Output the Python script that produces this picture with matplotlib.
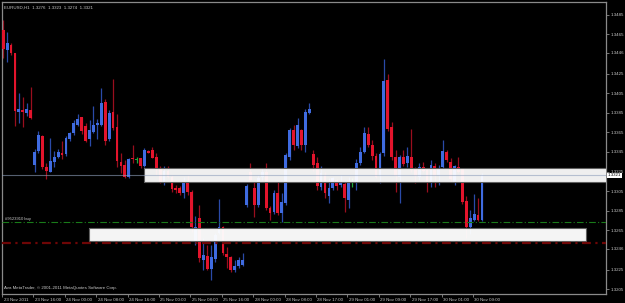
import numpy as np
import matplotlib
matplotlib.use("Agg")
import matplotlib.pyplot as plt
from matplotlib.patches import Rectangle
import matplotlib.transforms as mtransforms

plt.rcParams['font.family'] = ['Liberation Sans', 'DejaVu Sans']

# EURUSD H1 candles, 23 Nov 2011 08:00 .. 30 Nov 2011 ~10:00
opens = [1.3469, 1.3449, 1.3454, 1.3446, 1.3386, 1.3388, 1.3385, 1.3388, 1.3332, 1.3346,
         1.3361, 1.3330, 1.3325, 1.3335, 1.3340, 1.3344, 1.3343, 1.3358, 1.3364, 1.3372,
         1.3381, 1.3371, 1.3358, 1.3365, 1.3372, 1.3372, 1.3396, 1.3358, 1.3386, 1.3370,
         1.3335, 1.3332, 1.3319, 1.3339, 1.3337, 1.3339, 1.3331, 1.3346, 1.3347, 1.3340,
         1.3329, 1.3313, 1.3326, 1.3319, 1.3308, 1.3308, 1.3303, 1.3313, 1.3304, 1.3253,
         1.3278, 1.3235, 1.3239, 1.3226, 1.3236, 1.3262, 1.3268, 1.3241, 1.3238, 1.3224,
         1.3229, 1.3230, 1.3291, 1.3325, 1.3308, 1.3291, 1.3319, 1.3325, 1.3288, 1.3284,
         1.3303, 1.3283, 1.3293, 1.3340, 1.3367, 1.3351, 1.3367, 1.3352, 1.3385, 1.3343,
         1.3334, 1.3309, 1.3321, 1.3300, 1.3308, 1.3316, 1.3311, 1.3312, 1.3296, 1.3313,
         1.3313, 1.3334, 1.3345, 1.3363, 1.3352, 1.3341, 1.3320, 1.3344, 1.3418, 1.3370,
         1.3340, 1.3319, 1.3340, 1.3334, 1.3340, 1.3328, 1.3319, 1.3330, 1.3327, 1.3313,
         1.3331, 1.3321, 1.3330, 1.3345, 1.3335, 1.3313, 1.3330, 1.3328, 1.3295, 1.3268,
         1.3276, 1.3281, 1.3276]
highs = [1.3480, 1.3467, 1.3456, 1.3446, 1.3405, 1.3401, 1.3395, 1.3411, 1.3348, 1.3366,
         1.3362, 1.3334, 1.3359, 1.3346, 1.3348, 1.3356, 1.3361, 1.3365, 1.3378, 1.3384,
         1.3381, 1.3375, 1.3378, 1.3392, 1.3379, 1.3410, 1.3399, 1.3388, 1.3419, 1.3384,
         1.3344, 1.3337, 1.3339, 1.3352, 1.3340, 1.3339, 1.3349, 1.3347, 1.3350, 1.3344,
         1.3331, 1.3331, 1.3331, 1.3321, 1.3311, 1.3310, 1.3319, 1.3321, 1.3306, 1.3280,
         1.3291, 1.3257, 1.3250, 1.3250, 1.3262, 1.3297, 1.3269, 1.3248, 1.3239, 1.3235,
         1.3238, 1.3242, 1.3312, 1.3334, 1.3314, 1.3321, 1.3329, 1.3334, 1.3290, 1.3306,
         1.3314, 1.3303, 1.3344, 1.3369, 1.3372, 1.3380, 1.3368, 1.3389, 1.3395, 1.3347,
         1.3340, 1.3331, 1.3325, 1.3318, 1.3319, 1.3317, 1.3321, 1.3314, 1.3319, 1.3318,
         1.3338, 1.3350, 1.3370, 1.3370, 1.3357, 1.3344, 1.3345, 1.3440, 1.3425, 1.3376,
         1.3347, 1.3342, 1.3347, 1.3350, 1.3368, 1.3330, 1.3334, 1.3335, 1.3329, 1.3337,
         1.3334, 1.3332, 1.3357, 1.3347, 1.3339, 1.3332, 1.3340, 1.3329, 1.3300, 1.3286,
         1.3302, 1.3298, 1.3323]
lows = [1.3441, 1.3437, 1.3444, 1.3371, 1.3375, 1.3370, 1.3382, 1.3379, 1.3325, 1.3344,
        1.3328, 1.3317, 1.3324, 1.3330, 1.3339, 1.3338, 1.3341, 1.3356, 1.3362, 1.3371,
        1.3363, 1.3355, 1.3351, 1.3364, 1.3358, 1.3371, 1.3352, 1.3356, 1.3367, 1.3330,
        1.3323, 1.3318, 1.3318, 1.3334, 1.3334, 1.3329, 1.3330, 1.3344, 1.3339, 1.3321,
        1.3313, 1.3311, 1.3318, 1.3304, 1.3303, 1.3301, 1.3298, 1.3301, 1.3263, 1.3250,
        1.3233, 1.3225, 1.3225, 1.3214, 1.3233, 1.3261, 1.3240, 1.3227, 1.3222, 1.3222,
        1.3227, 1.3229, 1.3289, 1.3314, 1.3279, 1.3289, 1.3316, 1.3286, 1.3276, 1.3282,
        1.3281, 1.3273, 1.3291, 1.3337, 1.3347, 1.3349, 1.3347, 1.3345, 1.3384, 1.3326,
        1.3306, 1.3306, 1.3298, 1.3293, 1.3306, 1.3306, 1.3309, 1.3284, 1.3288, 1.3309,
        1.3306, 1.3332, 1.3344, 1.3350, 1.3337, 1.3318, 1.3313, 1.3341, 1.3366, 1.3337,
        1.3304, 1.3293, 1.3331, 1.3330, 1.3325, 1.3313, 1.3316, 1.3324, 1.3304, 1.3309,
        1.3309, 1.3311, 1.3329, 1.3335, 1.3314, 1.3311, 1.3323, 1.3292, 1.3257, 1.3261,
        1.3274, 1.3274, 1.3274]
closes = [1.3450, 1.3456, 1.3446, 1.3387, 1.3389, 1.3386, 1.3389, 1.3380, 1.3345, 1.3362,
          1.3330, 1.3326, 1.3336, 1.3340, 1.3345, 1.3342, 1.3359, 1.3364, 1.3375, 1.3379,
          1.3366, 1.3356, 1.3367, 1.3372, 1.3375, 1.3395, 1.3356, 1.3385, 1.3369, 1.3336,
          1.3331, 1.3319, 1.3338, 1.3338, 1.3337, 1.3331, 1.3347, 1.3344, 1.3339, 1.3329,
          1.3314, 1.3326, 1.3319, 1.3307, 1.3306, 1.3303, 1.3314, 1.3304, 1.3268, 1.3268,
          1.3237, 1.3240, 1.3226, 1.3238, 1.3260, 1.3268, 1.3242, 1.3238, 1.3225, 1.3229,
          1.3235, 1.3235, 1.3310, 1.3316, 1.3291, 1.3318, 1.3325, 1.3288, 1.3283, 1.3303,
          1.3283, 1.3294, 1.3342, 1.3367, 1.3352, 1.3372, 1.3352, 1.3386, 1.3389, 1.3332,
          1.3310, 1.3323, 1.3303, 1.3308, 1.3318, 1.3310, 1.3313, 1.3298, 1.3313, 1.3313,
          1.3334, 1.3345, 1.3364, 1.3352, 1.3341, 1.3319, 1.3343, 1.3417, 1.3368, 1.3340,
          1.3320, 1.3340, 1.3333, 1.3341, 1.3327, 1.3320, 1.3330, 1.3326, 1.3314, 1.3332,
          1.3320, 1.3329, 1.3346, 1.3337, 1.3317, 1.3331, 1.3325, 1.3294, 1.3268, 1.3278,
          1.3282, 1.3276, 1.3321]

time_labels = ["23 Nov 2011", "23 Nov 16:00", "24 Nov 00:00", "24 Nov 08:00",
               "24 Nov 16:00", "25 Nov 00:00", "25 Nov 08:00", "25 Nov 16:00",
               "28 Nov 00:00", "28 Nov 08:00", "28 Nov 17:00", "29 Nov 01:00",
               "29 Nov 09:00", "29 Nov 17:00", "30 Nov 01:00", "30 Nov 09:00"]
price_ticks = [1.3485, 1.3465, 1.3446, 1.3425, 1.3405, 1.3385, 1.3365, 1.3345,
               1.3325, 1.3305, 1.3285, 1.3265, 1.3246, 1.3225, 1.3205]

# chart objects
zone_hi = (1.3314, 1.3329)      # upper white rectangle
zone_lo = (1.3254, 1.3267)      # lower white rectangle
order_price = 1.3273            # #9523910 buy
stop_price = 1.3252
bid = 1.3321

o = np.array(opens); h = np.array(highs); l = np.array(lows); c = np.array(closes)
n = len(o)
x = np.arange(n)

BG = "#000000"
FG = "#c8c8c8"
UP = "#3f6be0"
DN = "#e3142c"
UPW = "#2a4aa8"
DNW = "#9a0e1e"
DOJI = "#1fa83a"

fig = plt.figure(figsize=(6.25, 3.03), dpi=100, facecolor=BG)
ax = fig.add_axes([2/625, 9/303, 604/625, 292/303], facecolor=BG)

up = c > o
dn = c < o
dj = c == o

ax.vlines(x[up], l[up], h[up], color=UPW, lw=0.9, zorder=2)
ax.vlines(x[dn], l[dn], h[dn], color=DNW, lw=0.9, zorder=2)
ax.vlines(x[dj], l[dj], h[dj], color=DOJI, lw=0.9, zorder=2)

body_lo = np.minimum(o, c)
body_h = np.maximum(np.abs(c - o), 0.00012)
ax.bar(x[up], body_h[up], bottom=body_lo[up], width=0.72, color=UP, lw=0, zorder=3)
ax.bar(x[dn], body_h[dn], bottom=body_lo[dn], width=0.72, color=DN, lw=0, zorder=3)
ax.bar(x[dj], body_h[dj], bottom=body_lo[dj], width=0.72, color=DOJI, lw=0, zorder=3)

# white zones (nearly opaque, candles show through faintly)
ax.add_patch(Rectangle((35.9, zone_hi[0]), 130, zone_hi[1] - zone_hi[0],
                       facecolor="white", alpha=0.94, edgecolor="none", zorder=4))
ax.add_patch(Rectangle((35.9, zone_hi[0]), 130, zone_hi[1] - zone_hi[0],
                       facecolor="none", edgecolor="#606060", lw=0.8, zorder=5))
ax.add_patch(Rectangle((21.9, zone_lo[0]), 126.7, zone_lo[1] - zone_lo[0],
                       facecolor="white", alpha=0.96, edgecolor="none", zorder=4))
ax.add_patch(Rectangle((21.9, zone_lo[0]), 126.7, zone_lo[1] - zone_lo[0],
                       facecolor="none", edgecolor="#606060", lw=0.8, zorder=5))

ax.axhline(bid, color="#8fa0bc", lw=0.8, alpha=0.6, zorder=6)
ax.axhline(order_price, color="#197a19", lw=0.8, ls=(0, (6, 2, 1, 2)), zorder=6)
ax.axhline(stop_price, color="#6e0606", lw=1.6, ls=(0, (4, 2, 1, 2)), zorder=6)

ax.set_xlim(-0.2, 153.6)
ax.set_ylim(1.3200, 1.3498)

for s in ax.spines.values():
    s.set_color("#8a8a8a")
    s.set_linewidth(0.9)

ax.yaxis.tick_right()
ax.set_yticks(price_ticks)
ax.set_yticklabels([f"{p:.4f}" for p in price_ticks])
ax.tick_params(axis="y", colors="#8a8a8a", labelcolor=FG, labelsize=3.2,
               length=2, width=0.6, pad=1.5)

ax.set_xticks(np.arange(len(time_labels)) * 8 - 0.3)
ax.set_xticklabels(time_labels)
ax.tick_params(axis="x", colors="#8a8a8a", labelcolor=FG, labelsize=3.2,
               length=2.5, width=0.6, pad=0.5)
shift = mtransforms.ScaledTranslation(1.5/100, 0, fig.dpi_scale_trans)
for lbl in ax.get_xticklabels():
    lbl.set_horizontalalignment("left")
    lbl.set_transform(lbl.get_transform() + shift)

# bid price box on the scale
ax.text(1.003, bid, f"{bid:.4f}", transform=ax.get_yaxis_transform(),
        fontsize=3.2, color="black", va="center", ha="left",
        bbox=dict(boxstyle="square,pad=0.15", fc="white", ec="white", lw=0),
        clip_on=False, zorder=10)

ax.text(0.003, 0.988, "EURUSD,H1  1.3276  1.3323  1.3274  1.3321",
        transform=ax.transAxes, fontsize=3.2, color=FG, va="top", ha="left")
ax.text(0.003, 0.012, "Ava MetaTrader, \u00a9 2001-2011 MetaQuotes Software Corp.",
        transform=ax.transAxes, fontsize=3.2, color=FG, va="bottom", ha="left")
ax.text(0.5, order_price + 0.0002, "#9523910 buy", fontsize=3.0, color=FG,
        va="bottom", ha="left")

fig.savefig("out.png", dpi=100, facecolor=BG)
